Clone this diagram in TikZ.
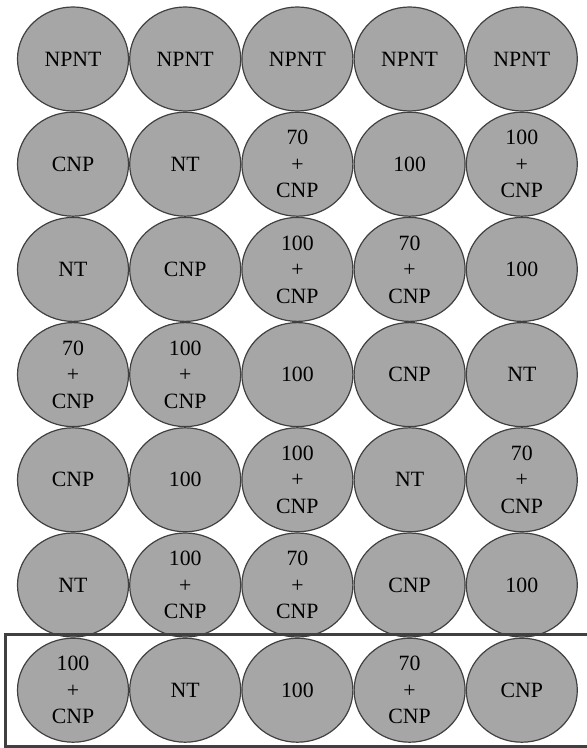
\documentclass[tikz,border=0pt]{standalone}
\usepackage{fontspec}
\setmainfont{Liberation Serif}
\usetikzlibrary{shapes.geometric}

\definecolor{wellgray}{HTML}{A6A6A6}
\definecolor{rimgray}{HTML}{404040}

\tikzset{
  well/.style={ellipse, draw=rimgray, fill=wellgray, line width=0.6pt,
    minimum width=55.5pt, minimum height=52pt, inner sep=0pt},
  welltext/.style={align=center, inner sep=0pt,
    font=\fontsize{10.9}{13.25}\selectfont},
}
\newcommand{\mixlabel}[1]{#1\\+\\CNP}

\begin{document}
\begin{tikzpicture}[x=0.5pt, y=-0.5pt]
\useasboundingbox (0,0) rectangle (586,748);

% Dimensions
\def\dx{112.2}  % column spacing
\def\dy{105.2}  % row spacing

% Plate of wells, one row per entry
\foreach \r/\a/\b/\c/\d/\e in {
    1/NPNT/NPNT/NPNT/NPNT/NPNT,
    2/CNP/NT/\mixlabel{70}/100/\mixlabel{100},
    3/NT/CNP/\mixlabel{100}/\mixlabel{70}/100,
    4/\mixlabel{70}/\mixlabel{100}/100/CNP/NT,
    5/CNP/100/\mixlabel{100}/NT/\mixlabel{70},
    6/NT/\mixlabel{100}/\mixlabel{70}/CNP/100,
    7/\mixlabel{100}/NT/100/\mixlabel{70}/CNP}{
  \foreach \lab [count=\col] in {\a,\b,\c,\d,\e}{
    \node[well] (w-\r-\col) at ({73+(\col-1)*\dx},{59+(\r-1)*\dy}) {};
    \node[welltext] (t-\r-\col) at (w-\r-\col) {\lab};
  }
}

% Frame round the last row
\draw[rimgray, line width=1.5pt] (600,634.5) -- (5,634.5) -- (5,746) -- (600,746);
\end{tikzpicture}
\end{document}
